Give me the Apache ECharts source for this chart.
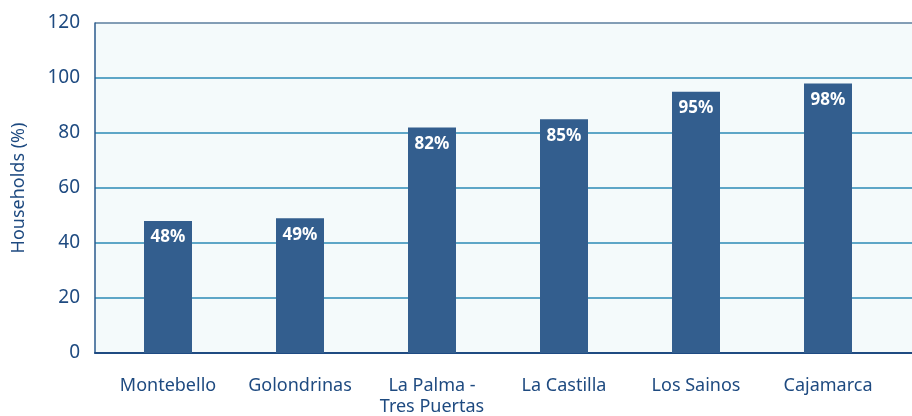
<!DOCTYPE html>
<html>
<head>
<meta charset="utf-8">
<script src="https://cdn.jsdelivr.net/npm/echarts@6/dist/echarts.min.js"></script>
<style>html,body{margin:0;padding:0;background:#fff;}#c{width:912px;height:416px;}</style>
</head>
<body>
<div id="c"></div>
<script>
const categories = ['Montebello', 'Golondrinas', 'La Palma -\nTres Puertas', 'La Castilla', 'Los Sainos', 'Cajamarca'];
const values = [48, 49, 82, 85, 95, 98];
const yTicks = [0, 20, 40, 60, 80, 100, 120];

const textColor = '#1e4a80';
const font = 'Noto Sans';
const chart = echarts.init(document.getElementById('c'), null, {renderer: 'canvas'});
chart.setOption({
  animation: false,
  grid: [
    {left: 95, top: 23, right: 0, bottom: 63, show: true, backgroundColor: '#f4fafb', borderWidth: 0, outerBoundsMode: 'none', containLabel: false},
    {left: 102, width: 792, top: 23, bottom: 63, outerBoundsMode: 'none', containLabel: false}
  ],
  xAxis: [
    {gridIndex: 0, type: 'value', min: 0, max: 1, position: 'bottom',
     axisLine: {show: true, lineStyle: {color: '#1f4b82', width: 2}},
     axisTick: {show: false}, axisLabel: {show: false}, splitLine: {show: false}},
    {gridIndex: 1, type: 'category', data: categories,
     axisLine: {show: false}, axisTick: {show: false},
     axisLabel: {color: textColor, fontFamily: font, fontSize: 18, margin: 22, lineHeight: 21, interval: 0}}
  ],
  yAxis: [
    {gridIndex: 0, type: 'value', min: yTicks[0], max: yTicks[yTicks.length - 1], interval: 20,
     name: 'Households (%)', nameLocation: 'middle', nameGap: 67,
     nameTextStyle: {color: textColor, fontFamily: font, fontSize: 18},
     axisLine: {show: true, lineStyle: {color: '#2a5a8c', width: 1.5}},
     axisTick: {show: false},
     axisLabel: {color: textColor, fontFamily: font, fontSize: 19, margin: 15},
     splitLine: {show: true, lineStyle: {color: ['#2b8ab6','#2b8ab6','#2b8ab6','#2b8ab6','#2b8ab6','#2b8ab6','#5b7e9e'], width: 1.5}}},
    {gridIndex: 1, type: 'value', min: 0, max: 120, show: false, splitLine: {show: false}}
  ],
  series: [{
    type: 'bar', xAxisIndex: 1, yAxisIndex: 1, data: values, barWidth: 48,
    itemStyle: {color: '#335e8e'},
    label: {show: true, position: 'insideTop', distance: 8, formatter: '{c}%',
            color: '#ffffff', fontFamily: font, fontSize: 17, fontWeight: 'bold'}
  }]
});
</script>
</body>
</html>
